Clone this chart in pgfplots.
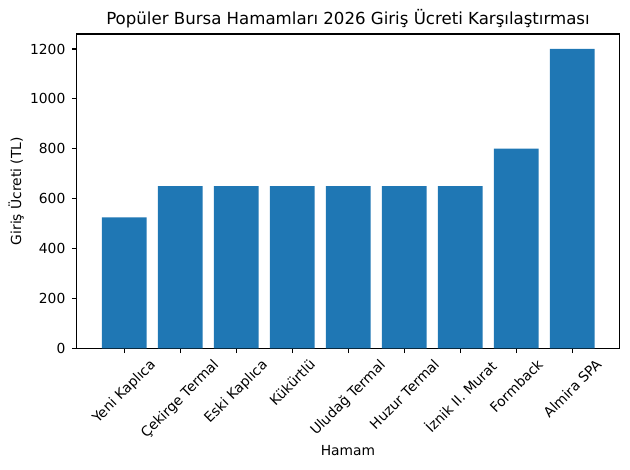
\documentclass[border=0pt]{standalone}
\usepackage{pgfplots}
\pgfplotsset{compat=1.18}
\usepackage{fontspec}
\setmainfont{DejaVu Sans}
\definecolor{mplblue}{HTML}{1F77B4}
\begin{document}
\begin{tikzpicture}[x=1pt,y=1pt]
\useasboundingbox (-0.767in,-1.217in) rectangle (5.533in,3.483in);
\begin{axis}[
  at={(0,0)}, anchor=south west,
  scale only axis,
  width=5.426in, height=3.143in,
  xmin=-0.85, xmax=8.84,
  ymin=0, ymax=1260,
  ybar, bar width=0.8,
  bar shift=0pt,
  xtick={0,1,2,3,4,5,6,7,8},
  xticklabels={\rotatebox{45}{Yeni Kaplıca},\rotatebox{45}{Çekirge Termal},\rotatebox{45}{Eski Kaplıca},\rotatebox{45}{Kükürtlü},\rotatebox{45}{Uludağ Termal},\rotatebox{45}{Huzur Termal},\rotatebox{45}{İznik II. Murat},\rotatebox{45}{Formback},\rotatebox{45}{Almira SPA}},
  xticklabel style={anchor=north, font=\fontsize{10}{12}\selectfont, inner sep=0pt, yshift=-3.5pt},
  ytick={0,200,400,600,800,1000,1200},
  yticklabel style={font=\fontsize{10}{12}\selectfont, inner sep=1pt, xshift=-3.5pt},
  /pgf/number format/assume math mode=true,
  /pgf/number format/1000 sep={},
  tick align=outside,
  major tick length=3.5pt,
  tick style={black, line width=0.8pt},
  xtick pos=bottom, ytick pos=left,
  axis line style={line width=0.8pt},
  title={Popüler Bursa Hamamları 2026 Giriş Ücreti Karşılaştırması},
  title style={font=\fontsize{12}{14}\selectfont, yshift=-5pt},
  xlabel={Hamam},
  ylabel={Giriş Ücreti (TL)},
  label style={font=\fontsize{10}{12}\selectfont},
]
\addplot[fill=mplblue, draw=none] coordinates {
(0,525) (1,650) (2,650) (3,650) (4,650) (5,650) (6,650) (7,800) (8,1200)
};
\end{axis}
\end{tikzpicture}
\end{document}
